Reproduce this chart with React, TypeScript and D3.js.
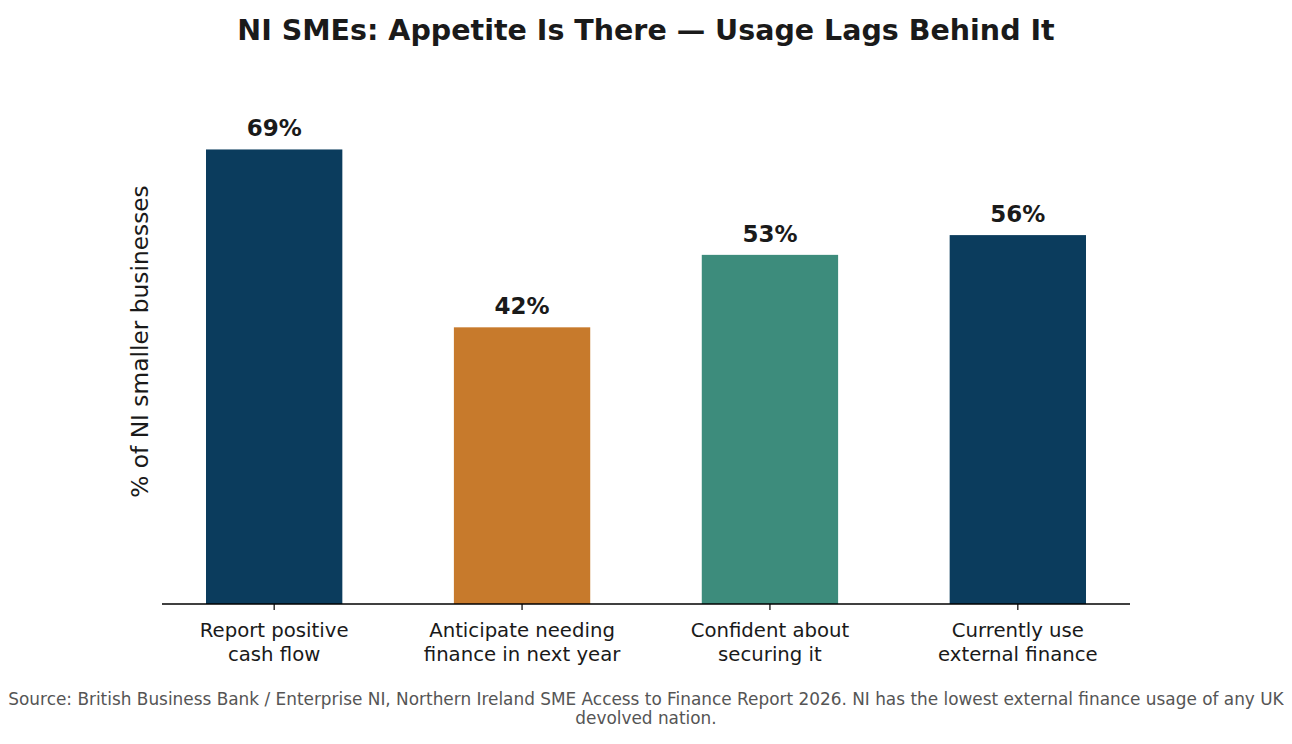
import React from 'react';
import * as d3 from 'd3';

// Chart data
const categories = [
  'Report positive\ncash flow',
  'Anticipate needing\nfinance in next year',
  'Confident about\nsecuring it',
  'Currently use\nexternal finance',
];
const values = [69, 42, 53, 56];
const barColors = ['#0b3c5d', '#c77a2c', '#3d8c7c', '#0b3c5d'];

const TITLE = 'NI SMEs: Appetite Is There — Usage Lags Behind It';
const Y_LABEL = '% of NI smaller businesses';
const SOURCE_LINES = [
  'Source: British Business Bank / Enterprise NI, Northern Ireland SME Access to Finance Report 2026. NI has the lowest external finance usage of any UK',
  'devolved nation.',
];

const WIDTH = 1292;
const HEIGHT = 744;
const FONT = '"DejaVu Sans", sans-serif';

export default function App() {
  const margin = { top: 77, bottom: 604, left: 162, right: 1130 };
  const barWidth = 0.55;

  // matplotlib-style x limits: bar extents plus 5% padding
  const xScale = d3.scaleLinear()
    .domain([-0.4525, categories.length - 1 + 0.4525])
    .range([margin.left, margin.right]);

  const yScale = d3.scaleLinear()
    .domain([0, 80])
    .range([margin.bottom, margin.top]);

  const bw = xScale(barWidth) - xScale(0);

  return (
    <div style={{ margin: -8 }}>
      <svg width={WIDTH} height={HEIGHT} viewBox={`0 0 ${WIDTH} ${HEIGHT}`} style={{ display: 'block', background: '#fff' }}>
        <text x={WIDTH / 2} y={40} textAnchor="middle" fontFamily={FONT} fontWeight="bold" fontSize={28.5} fill="#1a1a1a">
          {TITLE}
        </text>

        {values.map((v, i) => (
          <g key={i}>
            <rect
              x={xScale(i) - bw / 2}
              y={yScale(v)}
              width={bw}
              height={yScale(0) - yScale(v)}
              fill={barColors[i]}
            />
            <text
              x={xScale(i)}
              y={yScale(v) - 13}
              textAnchor="middle"
              fontFamily={FONT}
              fontWeight="bold"
              fontSize={23}
              fill="#1a1a1a"
            >
              {v}%
            </text>
          </g>
        ))}

        {/* x axis */}
        <line x1={margin.left} x2={margin.right} y1={yScale(0)} y2={yScale(0)} stroke="#000" strokeWidth={1.5} />
        {categories.map((c, i) => (
          <g key={c} transform={`translate(${xScale(i)},${yScale(0)})`}>
            <line y1={0} y2={6} stroke="#000" strokeWidth={1.2} />
            {c.split('\n').map((line, j) => (
              <text key={j} y={33 + j * 24} textAnchor="middle" fontFamily={FONT} fontSize={19.7} fill="#1a1a1a">
                {line}
              </text>
            ))}
          </g>
        ))}

        <text
          transform={`translate(148,${(margin.top + margin.bottom) / 2 + 1}) rotate(-90)`}
          textAnchor="middle"
          fontFamily={FONT}
          fontSize={23.3}
          fill="#1a1a1a"
        >
          {Y_LABEL}
        </text>

        {SOURCE_LINES.map((line, i) => (
          <text key={i} x={WIDTH / 2} y={705 + i * 19} textAnchor="middle" fontFamily={FONT} fontSize={16.9} fill="#555">
            {line}
          </text>
        ))}
      </svg>
    </div>
  );
}
